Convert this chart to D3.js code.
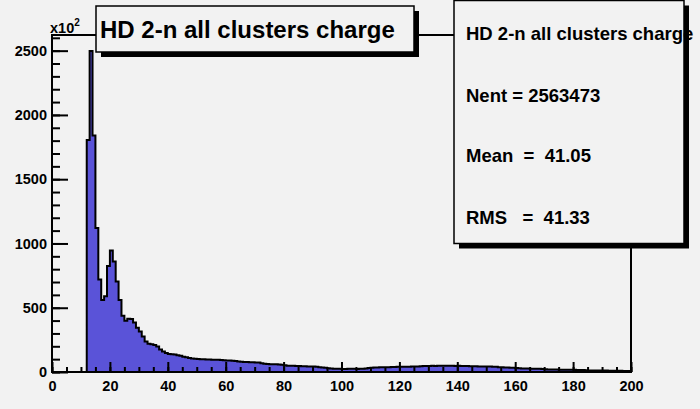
<!DOCTYPE html>
<html>
<head>
<meta charset="utf-8">
<script src="https://cdn.jsdelivr.net/npm/d3@7"></script>
<style>
  html, body { margin: 0; padding: 0; background: #f2f2f2; }
  svg { display: block; }
  text { font-family: "Liberation Sans", Arial, Helvetica, sans-serif; font-weight: bold; fill: #000; }
</style>
</head>
<body>
<svg id="chart" width="700" height="409"></svg>
<script>
// Histogram "HD 2-n all clusters charge": 200 bins of width 1 over [0, 200], counts in units of 100
const binLow = 0;
const binWidth = 1;
const counts = [
  0, 0, 0, 0, 0, 0, 0, 0, 0, 0,
  0, 0, 1805, 2497, 1840, 1120, 720, 560, 590, 825,
  945, 860, 705, 560, 438, 398, 414, 412, 385, 345,
  315, 276, 237, 220, 216, 210, 198, 175, 160, 148,
  141, 139, 136, 130, 126, 118, 114, 108, 105, 104,
  102, 100, 99, 98, 97, 96, 95, 95, 94, 92,
  90, 89, 87, 85, 82, 80, 78, 77, 76, 75,
  74, 73, 68, 64, 62, 61, 60, 60, 58, 56,
  52, 49, 48, 48, 47, 46, 45, 44, 43, 43,
  42, 40, 37, 35, 34, 30, 27, 26, 25, 25,
  24, 24, 25, 25, 25, 24, 25, 26, 28, 32,
  34, 35, 35, 36, 36, 37, 36, 38, 39, 40,
  40, 41, 40, 41, 42, 42, 43, 44, 46, 47,
  47, 48, 47, 48, 48, 48, 49, 48, 48, 47,
  48, 47, 47, 46, 45, 44, 44, 43, 43, 43,
  42, 42, 41, 40, 37, 36, 35, 35, 34, 34,
  32, 30, 28, 27, 27, 26, 26, 25, 25, 24,
  21, 20, 19, 19, 19, 18, 18, 18, 17, 17,
  17, 16, 16, 15, 14, 12, 12, 12, 11, 11,
  11, 11, 10, 10, 10, 9, 9, 8, 8, 8
];
const xTicks = [0, 20, 40, 60, 80, 100, 120, 140, 160, 180, 200];
const yTicks = [0, 500, 1000, 1500, 2000, 2500];
const titleText = "HD 2-n all clusters charge";
const statsLines = ["HD 2-n all clusters charge", "Nent = 2563473", "Mean  =  41.05", "RMS   =  41.33"];

const svg = d3.select("#chart");
const frame = { left: 52, right: 631, top: 35, bottom: 372 };
const fill = "#5a53d8";

const x = d3.scaleLinear().domain([0, 200]).range([frame.left, frame.right]);
const yMax = 1.05 * d3.max(counts);
const y = d3.scaleLinear().domain([0, yMax]).range([frame.bottom, frame.top]);

// step outline of the histogram
const pts = counts.map((c, i) => [binLow + i * binWidth, c]);
pts.push([binLow + counts.length * binWidth, counts[counts.length - 1]]);

const area = d3.area()
  .x(d => x(d[0]))
  .y0(y(0))
  .y1(d => y(d[1]))
  .curve(d3.curveStepAfter);
const line = d3.line()
  .x(d => x(d[0]))
  .y(d => y(d[1]))
  .curve(d3.curveStepAfter);

svg.append("path").attr("d", area(pts)).attr("fill", fill);
svg.append("path").attr("d", line(pts)).attr("fill", "none")
  .attr("stroke", "#000").attr("stroke-width", 2);

// axes: ticks drawn inward, ROOT style
const yMinor = d3.range(0, yMax, 100);
const xMinor = d3.range(0, 201, 5);

const gy = svg.append("g").attr("transform", `translate(${frame.left},0)`);
gy.call(d3.axisLeft(y).tickValues(yMinor).tickSize(-8).tickFormat(""));
gy.append("g").call(d3.axisLeft(y).tickValues(yTicks).tickSize(-16).tickPadding(5).tickFormat(d3.format("d")));

const gx = svg.append("g").attr("transform", `translate(0,${frame.bottom})`);
gx.call(d3.axisBottom(x).tickValues(xMinor).tickSize(-5).tickFormat(""));
gx.append("g").call(d3.axisBottom(x).tickValues(xTicks).tickSize(-10).tickPadding(9).tickFormat(d3.format("d")));

svg.selectAll(".domain").remove();
svg.selectAll(".tick line").attr("stroke", "#000").attr("stroke-width", 2);
svg.selectAll(".tick text").style("font-size", "14.5px").style("font-family", "Liberation Sans, Arial, sans-serif").style("font-weight", "bold").attr("fill", "#000");

// frame
svg.append("rect")
  .attr("x", frame.left).attr("y", frame.top)
  .attr("width", frame.right - frame.left).attr("height", frame.bottom - frame.top)
  .attr("fill", "none").attr("stroke", "#000").attr("stroke-width", 2);

// exponent label on the y axis
const exp = svg.append("text").attr("x", 50).attr("y", 32.5).style("font-size", "14.5px");
exp.append("tspan").text("x10");
exp.append("tspan").attr("dy", -6.5).style("font-size", "10px").text("2");

// pave with shadow
function pave(x0, y0, w, h) {
  svg.append("rect").attr("x", x0 + 5).attr("y", y0 + 5).attr("width", w).attr("height", h).attr("fill", "#000");
  svg.append("rect").attr("x", x0).attr("y", y0).attr("width", w).attr("height", h)
    .attr("fill", "#f2f2f2").attr("stroke", "#000").attr("stroke-width", 1.5);
}

// title box
pave(96, 6, 318, 46);
svg.append("text").attr("x", 100).attr("y", 38)
  .style("font-size", "24px").text(titleText);

// statistics box
pave(454, 0.5, 230, 243);
const baselines = [40, 101.5, 162, 223.5];
statsLines.forEach((s, i) => {
  svg.append("text").attr("x", 466).attr("y", baselines[i])
    .style("font-size", "18.5px").style("white-space", "pre").attr("xml:space", "preserve").text(s);
});
</script>
</body>
</html>
